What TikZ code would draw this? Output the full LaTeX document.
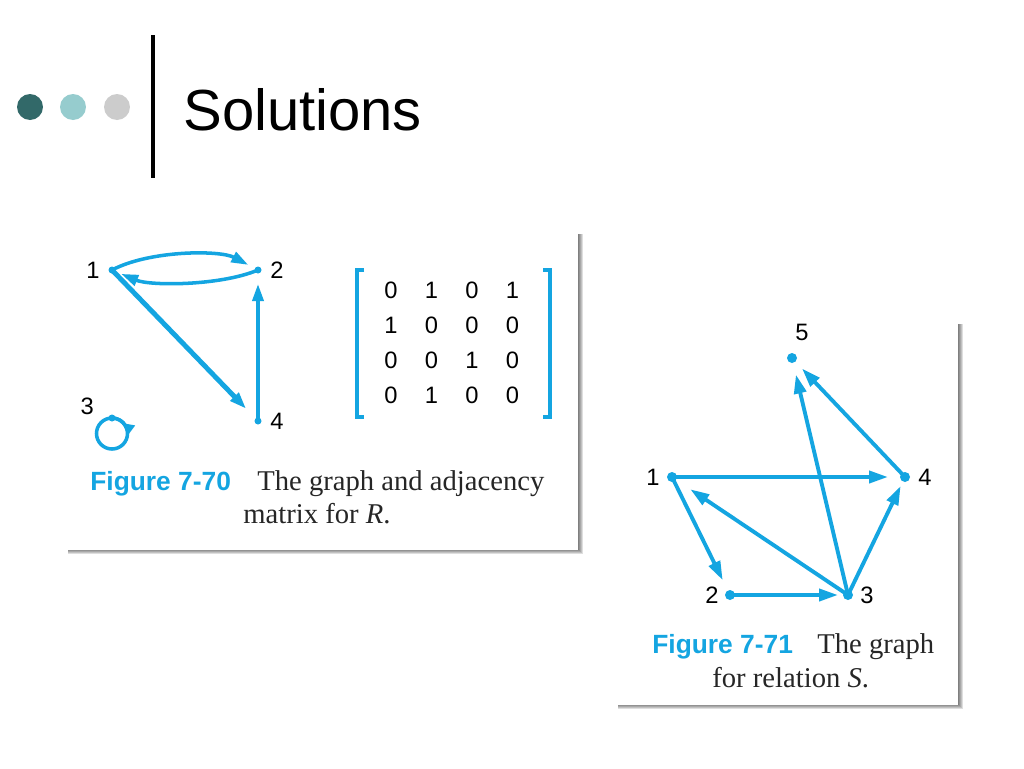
\documentclass[tikz,border=0pt]{standalone}
\usepackage{fontspec}
\setmainfont{Liberation Serif}
\setsansfont{Liberation Sans}
\usetikzlibrary{arrows.meta}
\definecolor{figblue}{RGB}{20,165,225}
\definecolor{dotdark}{RGB}{50,105,105}
\definecolor{dotlight}{RGB}{150,204,206}
\definecolor{dotgrey}{RGB}{204,204,204}
\newcommand{\fsz}[1]{\fontsize{#1}{#1}\selectfont}

\begin{document}
\begin{tikzpicture}
  [
    x=0.02cm, y=-0.02cm,
    font=\sffamily\fsz{13.5},
    every label/.style={inner sep=0pt},
    edg/.style={figblue, line width=2pt, -{Triangle[length=0.34cm, width=0.22cm]}},
    edgs/.style={figblue, line width=2.2pt, -{Triangle[length=0.38cm, width=0.24cm]}},
    vtx/.style={figblue},
    shd/.style={black, fill opacity=0.13},
    capfig/.style={font=\sffamily\bfseries\fsz{15}, text=figblue, anchor=base west, inner sep=0pt},
    captxt/.style={font=\rmfamily\fsz{16.3}, text=black!85, anchor=base west, inner sep=0pt},
    entry/.style={inner sep=0pt}
  ]
  \useasboundingbox (0,0) rectangle (1024,768);
  % title
  \fill [dotdark]  (30,107) circle (0.26cm);
  \fill [dotlight] (73,107) circle (0.26cm);
  \fill [dotgrey]  (117,107) circle (0.26cm);
  \coordinate (B1) at (153,35);
  \coordinate (B2) at (153,178);
  \draw [line width=2.3pt] (B1) -- (B2);
  \node [anchor=base west, inner sep=0pt, font=\sffamily\fsz{33}] (title) at (183,130) {Solutions};
  % panels with shadow
  \foreach \s in {0,1,...,5} {
    \fill [shd] (68,234) rectangle (578+\s,549+\s);
    \fill [shd] (618,324) rectangle (958+\s,704+\s);
  }
  \fill [white] (64,228) rectangle (578,550);
  \fill [white] (614,318) rectangle (958,705);
  % graph of R
  \coordinate [label={[label distance=0.24cm]left:{1}}]   (R1) at (112,270);
  \coordinate [label={[label distance=0.24cm]right:{2}}]  (R2) at (258,270);
  \coordinate [label={[label distance=0.36cm]170:{3}}]    (R3) at (112,418);
  \coordinate [label={[label distance=0.24cm]right:{4}}]  (R4) at (258,421);
  \draw [edg, shorten >=0.22cm] (R1) .. controls (150,250) and (220,250) .. (R2);
  \draw [edg, shorten >=0.2cm]  (R2) .. controls (220,286) and (150,286) .. (R1);
  \draw [edg, line width=2.8pt, shorten >=0.34cm] (R1) -- (R4);
  \draw [edg, shorten >=0.28cm] (R4) -- (R2);
  \draw [figblue, line width=2pt] (R3) arc [start angle=-90, end angle=270, radius=15.5];
  \draw [figblue, line width=2pt, -{Triangle[length=0.24cm, width=0.22cm]}]
    (R3) arc [start angle=-90, end angle=10, radius=15.5];
  \foreach \point in {R1, R2, R3, R4}
    \fill [vtx] (\point) circle (3.5);
  % matrix
  \draw [figblue, line width=2pt] (364,270) -- (357,270) -- (357,417) -- (364,417);
  \draw [figblue, line width=2pt] (543,270) -- (550,270) -- (550,417) -- (543,417);
  \foreach \rowvals [count=\i] in {{0,1,0,1},{1,0,0,0},{0,0,1,0},{0,1,0,0}}
    \foreach \v [count=\j] in \rowvals
      \node [entry] (m\i\j) at ({350.5+40.5*\j}, {255+35*\i}) {\v};
  \node [capfig] (cap1) at (90,490) {Figure 7-70};
  \node [captxt] (txt1a) at (257,490) {The graph and adjacency};
  \node [captxt] (txt1b) at (243,523) {matrix for \textit{R}.};
  % graph of S
  \coordinate [label={[label distance=0.24cm]left:{1}}]  (S1) at (672,477);
  \coordinate [label={[label distance=0.22cm]left:{2}}]  (S2) at (730,595);
  \coordinate [label={[label distance=0.24cm]right:{3}}] (S3) at (848,595);
  \coordinate [label={[label distance=0.26cm]right:{4}}] (S4) at (905,477);
  \coordinate [label={[label distance=0.34cm, xshift=0.2cm]above:{5}}] (S5) at (792,358);
  \draw [edgs, shorten >=0.34cm] (S1) -- (S4);
  \draw [edgs, shorten >=0.33cm] (S1) -- (S2);
  \draw [edgs, shorten >=0.2cm]  (S2) -- (S3);
  \draw [edgs, shorten >=0.44cm] (S3) -- (S1);
  \draw [edgs, shorten >=0.34cm] (S3) -- (S5);
  \draw [edgs, shorten >=0.2cm]  (S3) -- (S4);
  \draw [edgs, shorten >=0.29cm] (S4) -- (S5);
  \foreach \point in {S1, S2, S3, S4, S5}
    \fill [vtx] (\point) circle (5);
  \node [capfig] (cap2) at (652,653) {Figure 7-71};
  \node [captxt] (txt2a) at (817,653) {The graph};
  \node [captxt] (txt2b) at (712,687) {for relation \textit{S}.};
\end{tikzpicture}
\end{document}
